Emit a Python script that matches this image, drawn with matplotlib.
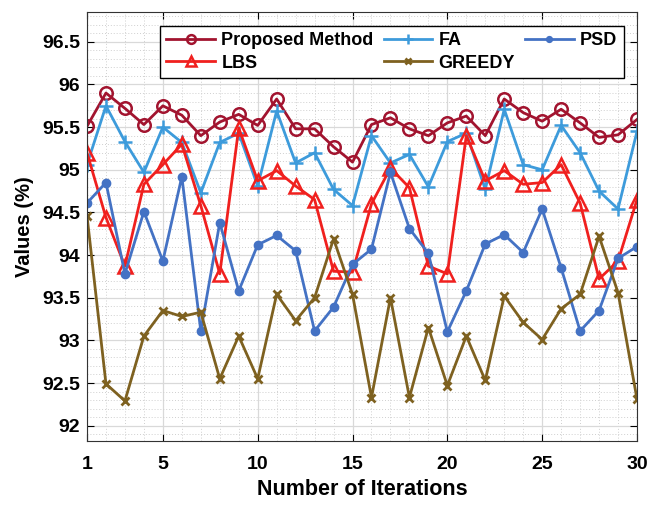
import matplotlib
matplotlib.use("Agg")
import matplotlib.pyplot as plt
from matplotlib.ticker import MultipleLocator

plt.rcParams['font.family'] = ['Liberation Sans', 'DejaVu Sans']
plt.rcParams['font.weight'] = 'bold'

iterations = list(range(1, 31))
proposed = [95.51, 95.90, 95.72, 95.53, 95.75, 95.64, 95.40, 95.56, 95.65, 95.52,
            95.83, 95.48, 95.48, 95.27, 95.09, 95.53, 95.61, 95.48, 95.40, 95.55,
            95.63, 95.40, 95.83, 95.67, 95.57, 95.71, 95.55, 95.38, 95.41, 95.59]
fa = [95.06, 95.75, 95.33, 94.97, 95.50, 95.32, 94.73, 95.32, 95.43, 94.81,
      95.69, 95.08, 95.20, 94.77, 94.58, 95.40, 95.08, 95.18, 94.80, 95.33,
      95.43, 94.77, 95.71, 95.06, 95.00, 95.52, 95.20, 94.75, 94.54, 95.45]
lbs = [95.20, 94.44, 93.87, 94.83, 95.06, 95.30, 94.58, 93.78, 95.49, 94.87,
       94.99, 94.81, 94.65, 93.81, 93.80, 94.60, 95.02, 94.79, 93.87, 93.78,
       95.40, 94.87, 94.99, 94.83, 94.85, 95.06, 94.61, 93.72, 93.93, 94.65]
psd = [94.61, 94.85, 93.78, 94.51, 93.93, 94.92, 93.11, 94.38, 93.58, 94.12,
       94.23, 94.05, 93.11, 93.39, 93.89, 94.07, 94.97, 94.31, 94.02, 93.10,
       93.58, 94.13, 94.24, 94.03, 94.54, 93.85, 93.11, 93.35, 93.96, 94.10]
greedy = [94.46, 92.49, 92.29, 93.05, 93.35, 93.28, 93.33, 92.55, 93.05, 92.55,
          93.54, 93.23, 93.50, 94.19, 93.54, 92.33, 93.50, 92.33, 93.15, 92.47,
          93.05, 92.53, 93.52, 93.21, 93.01, 93.37, 93.54, 94.22, 93.56, 92.31]
xticks = [1, 5, 10, 15, 20, 25, 30]
yticks = [92, 92.5, 93, 93.5, 94, 94.5, 95, 95.5, 96, 96.5]
ytick_labels = ['92', '92.5', '93', '93.5', '94', '94.5', '95', '95.5', '96', '96.5']

fig = plt.figure(figsize=(6.48, 5.05), dpi=100)
L, R, T, B = 87, 637, 12, 441
ax = fig.add_axes([L/648, 1-B/505, (R-L)/648, (B-T)/505])

lw = 2.0
h_pm, = ax.plot(iterations, proposed, '-o', color='#A2142F', lw=lw, ms=9,
                mfc='none', mew=1.8, label='Proposed Method')
h_fa, = ax.plot(iterations, fa, '-+', color='#3D9BDB', lw=lw, ms=10, mew=1.8, label='FA')
h_lbs, = ax.plot(iterations, lbs, '-^', color='#F0201E', lw=lw, ms=10,
                 mfc='none', mew=1.8, label='LBS')
h_psd, = ax.plot(iterations, psd, '-o', color='#4472C4', lw=lw, ms=6, label='PSD')
h_gr, = ax.plot(iterations, greedy, '-x', color='#7E6120', lw=lw, ms=6, mew=2.0, label='GREEDY')

ax.set_xlim(1, 30)
ax.set_ylim(91.82, 96.85)
ax.set_xticks(xticks)
ax.set_yticks(yticks)
ax.set_yticklabels(ytick_labels)
ax.xaxis.set_minor_locator(MultipleLocator(1))
ax.yaxis.set_minor_locator(MultipleLocator(0.1))
ax.grid(True, which='major', color='#d9d9d9', lw=0.9, ls='-')
ax.grid(True, which='minor', color='#cfcfcf', lw=0.7, ls=(0, (1, 2)))
ax.set_axisbelow(True)
ax.tick_params(which='both', direction='in', top=True, right=True)
ax.tick_params(which='minor', length=0)
ax.tick_params(which='major', length=5, labelsize=14)
ax.tick_params(axis='x', which='major', pad=11)
ax.tick_params(axis='y', which='major', pad=5)
for lab in ax.get_xticklabels() + ax.get_yticklabels():
    lab.set_fontweight('bold')
for s in ax.spines.values():
    s.set_color('#333333')
    s.set_linewidth(0.8)

ax.set_xlabel('Number of Iterations', fontsize=15.5, fontweight='bold', labelpad=4)
ax.set_ylabel('Values (%)', fontsize=14.5, fontweight='bold', labelpad=6)

leg = ax.legend([h_pm, h_lbs, h_fa, h_gr, h_psd],
                ['Proposed Method', 'LBS', 'FA', 'GREEDY', 'PSD'],
                ncol=3, loc='upper left', bbox_to_anchor=((160-L)/(R-L), (B-26)/(B-T)),
                prop={'weight': 'bold', 'size': 13}, frameon=True, fancybox=False,
                edgecolor='black', framealpha=1, handlelength=2.7, markerscale=0.7,
                columnspacing=0.55, handletextpad=0.35, borderpad=0.35, labelspacing=0.3,
                borderaxespad=0)
leg.get_frame().set_linewidth(1.0)

fig.savefig('out.png', dpi=100)
